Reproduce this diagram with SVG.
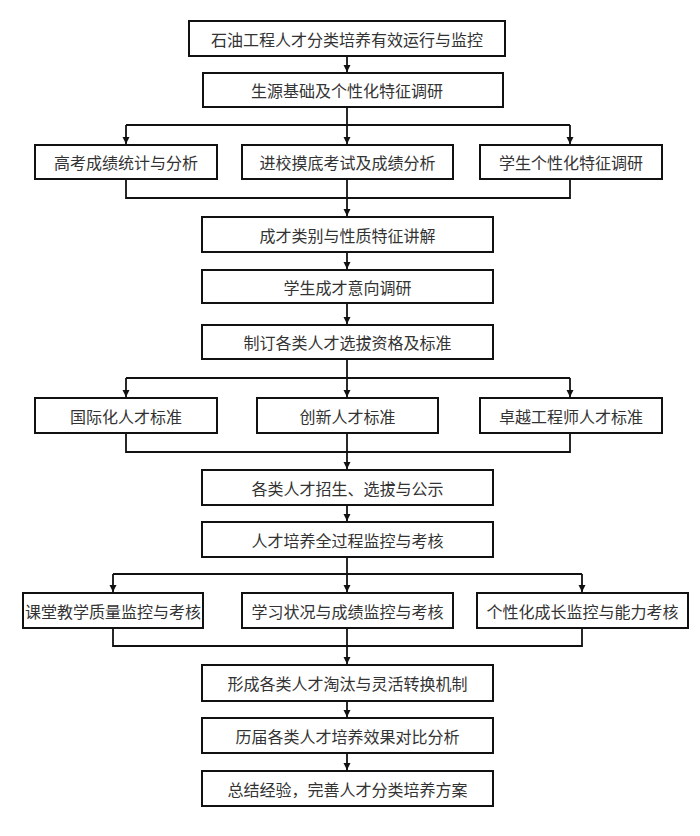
<svg xmlns="http://www.w3.org/2000/svg" width="700" height="836" viewBox="0 0 700 836">
<style>
.box{fill:#fff;stroke:#111;stroke-width:2}
.t{font-family:"Noto Sans CJK SC","Liberation Serif",serif;font-size:16px;fill:#333;text-anchor:middle;dominant-baseline:central}
.c{fill:none;stroke:#111;stroke-width:1.8}
</style>
<defs>
<marker id="ah" markerUnits="userSpaceOnUse" markerWidth="8" markerHeight="8" refX="7" refY="3.5" orient="auto">
<path d="M0,0 L7,3.5 L0,7 z" fill="#111"/>
</marker>
</defs>
<rect width="700" height="836" fill="#fff"/>
<g id="connectors">
<path class="c" d="M347,56 V72" marker-end="url(#ah)"/>
<path class="c" d="M347,107 V144"  marker-end="url(#ah)"/>
<path class="c" d="M126,125 H570"/>
<path class="c" d="M126,125 V144" marker-end="url(#ah)"/>
<path class="c" d="M570,125 V144" marker-end="url(#ah)"/>
<path class="c" d="M126,179 V198 H570 V179"/>
<path class="c" d="M347,179 V216" marker-end="url(#ah)"/>
<path class="c" d="M347,252 V269" marker-end="url(#ah)"/>
<path class="c" d="M347,303 V324" marker-end="url(#ah)"/>
<path class="c" d="M347,359 V397" marker-end="url(#ah)"/>
<path class="c" d="M126,378 H570"/>
<path class="c" d="M126,378 V397" marker-end="url(#ah)"/>
<path class="c" d="M570,378 V397" marker-end="url(#ah)"/>
<path class="c" d="M126,433 V452 H570 V433"/>
<path class="c" d="M347,433 V469" marker-end="url(#ah)"/>
<path class="c" d="M347,505 V521" marker-end="url(#ah)"/>
<path class="c" d="M347,557 V592" marker-end="url(#ah)"/>
<path class="c" d="M113,574 H582"/>
<path class="c" d="M113,574 V592" marker-end="url(#ah)"/>
<path class="c" d="M582,574 V592" marker-end="url(#ah)"/>
<path class="c" d="M113,628 V646 H582 V628"/>
<path class="c" d="M347,628 V664" marker-end="url(#ah)"/>
<path class="c" d="M347,701 V717" marker-end="url(#ah)"/>
<path class="c" d="M347,753 V770" marker-end="url(#ah)"/>
</g>
<g id="n1"><rect class="box" x="189" y="21" width="316" height="35"/><text class="t" x="347" y="38.5">石油工程人才分类培养有效运行与监控</text></g>
<g id="n2"><rect class="box" x="203" y="73" width="300" height="34"/><text class="t" x="347" y="90">生源基础及个性化特征调研</text></g>
<g id="n3a"><rect class="box" x="35" y="145" width="182" height="34"/><text class="t" x="126" y="162">高考成绩统计与分析</text></g>
<g id="n3b"><rect class="box" x="242" y="145" width="211" height="34"/><text class="t" x="347.5" y="162">进校摸底考试及成绩分析</text></g>
<g id="n3c"><rect class="box" x="480" y="145" width="182" height="34"/><text class="t" x="571" y="162">学生个性化特征调研</text></g>
<g id="n4"><rect class="box" x="202" y="217" width="291" height="35"/><text class="t" x="347.5" y="234.5">成才类别与性质特征讲解</text></g>
<g id="n5"><rect class="box" x="202" y="270" width="291" height="33"/><text class="t" x="347.5" y="286.5">学生成才意向调研</text></g>
<g id="n6"><rect class="box" x="202" y="325" width="291" height="34"/><text class="t" x="347.5" y="342">制订各类人才选拔资格及标准</text></g>
<g id="n7a"><rect class="box" x="35" y="398" width="182" height="35"/><text class="t" x="126" y="415.5">国际化人才标准</text></g>
<g id="n7b"><rect class="box" x="257" y="398" width="181" height="35"/><text class="t" x="347.5" y="415.5">创新人才标准</text></g>
<g id="n7c"><rect class="box" x="480" y="398" width="182" height="35"/><text class="t" x="571" y="415.5">卓越工程师人才标准</text></g>
<g id="n8"><rect class="box" x="202" y="470" width="291" height="35"/><text class="t" x="347.5" y="487.5">各类人才招生、选拔与公示</text></g>
<g id="n9"><rect class="box" x="202" y="522" width="291" height="35"/><text class="t" x="347.5" y="539.5">人才培养全过程监控与考核</text></g>
<g id="n10a"><rect class="box" x="23" y="593" width="180" height="35"/><text class="t" x="113" y="610.5">课堂教学质量监控与考核</text></g>
<g id="n10b"><rect class="box" x="242" y="593" width="211" height="35"/><text class="t" x="347.5" y="610.5">学习状况与成绩监控与考核</text></g>
<g id="n10c"><rect class="box" x="477" y="593" width="211" height="35"/><text class="t" x="582.5" y="610.5">个性化成长监控与能力考核</text></g>
<g id="n11"><rect class="box" x="202" y="665" width="291" height="36"/><text class="t" x="347.5" y="683">形成各类人才淘汰与灵活转换机制</text></g>
<g id="n12"><rect class="box" x="202" y="718" width="291" height="35"/><text class="t" x="347.5" y="735.5">历届各类人才培养效果对比分析</text></g>
<g id="n13"><rect class="box" x="202" y="771" width="291" height="35"/><text class="t" x="347.5" y="788.5">总结经验，完善人才分类培养方案</text></g>
</svg>
